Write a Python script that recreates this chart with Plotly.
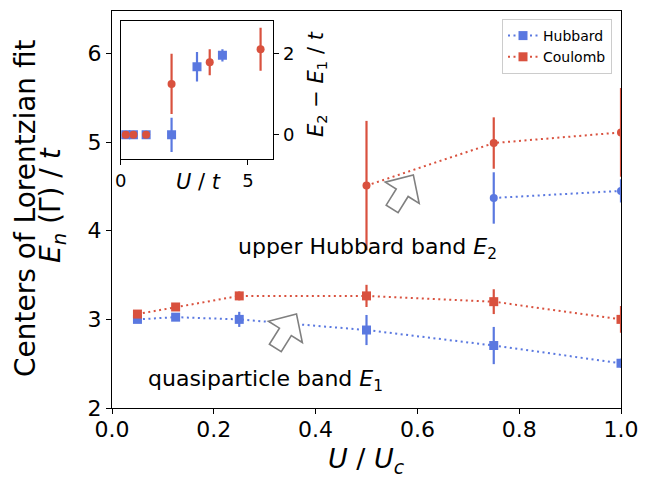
import numpy as np
import plotly.graph_objects as go

# ---------------- data ----------------
u_over_uc = [0.05, 0.125, 0.25, 0.5, 0.75, 1.0]

hub_e1 = [3.00, 3.025, 3.00, 2.88, 2.705, 2.505]
hub_e1_err = [0.0, 0.015, 0.085, 0.17, 0.21, 0.05]
coul_e1 = [3.06, 3.14, 3.265, 3.265, 3.20, 3.00]
coul_e1_err = [0.0, 0.02, 0.05, 0.125, 0.14, 0.15]

hub_e2_x = [0.75, 1.0]
hub_e2 = [4.37, 4.45]
hub_e2_err = [0.29, 0.13]
coul_e2_x = [0.5, 0.75, 1.0]
coul_e2 = [4.51, 4.99, 5.11]
coul_e2_err = [0.73, 0.29, 0.5]

# inset: E2 - E1 vs U/t
hub_ut = [0.2, 0.5, 1.0, 2.0, 3.0, 4.0]
hub_gap = [0.0, 0.0, 0.0, 0.0, 1.67, 1.95]
hub_gap_err = [0.0, 0.0, 0.0, 0.42, 0.36, 0.15]
coul_ut = [0.2, 0.5, 1.0, 2.0, 3.5, 5.5]
coul_gap = [0.0, 0.0, 0.0, 1.25, 1.78, 2.10]
coul_gap_err = [0.0, 0.0, 0.0, 0.74, 0.32, 0.53]

x_ticks = [0.0, 0.2, 0.4, 0.6, 0.8, 1.0]
y_ticks = [2, 3, 4, 5, 6]
inset_x_ticks = [0, 5]
inset_y_ticks = [0, 2]

# ---------------- style ----------------
BLUE = "#5a78e0"
RED = "#d9513e"
DOT = "2px,3.5px"
FONT = "DejaVu Sans"

W, H = 653, 479
ML, MR, MT, MB = 112, 32, 11, 71
XR = [0.0, 1.0]
YR = [2.0, 6.48]
PW = W - ML - MR
PH = H - MT - MB

fig = go.Figure()


def err(arr, color):
    return dict(type="data", array=arr, visible=True, color=color, thickness=2.2, width=0)


fig.add_trace(go.Scatter(x=u_over_uc, y=hub_e1, mode="lines+markers", name="Hubbard",
                         error_y=err(hub_e1_err, BLUE),
                         line=dict(color=BLUE, width=2, dash=DOT),
                         marker=dict(symbol="square", size=9, color=BLUE)))
fig.add_trace(go.Scatter(x=hub_e2_x, y=hub_e2, mode="lines+markers", showlegend=False,
                         error_y=err(hub_e2_err, BLUE),
                         line=dict(color=BLUE, width=2, dash=DOT),
                         marker=dict(symbol="circle", size=8, color=BLUE)))
fig.add_trace(go.Scatter(x=u_over_uc, y=coul_e1, mode="lines+markers", name="Coulomb",
                         error_y=err(coul_e1_err, RED),
                         line=dict(color=RED, width=2, dash=DOT),
                         marker=dict(symbol="square", size=9, color=RED)))
fig.add_trace(go.Scatter(x=coul_e2_x, y=coul_e2, mode="lines+markers", showlegend=False,
                         error_y=err(coul_e2_err, RED),
                         line=dict(color=RED, width=2, dash=DOT),
                         marker=dict(symbol="circle", size=8, color=RED)))

# inset
fig.add_trace(go.Scatter(x=hub_ut, y=hub_gap, mode="markers", showlegend=False,
                         xaxis="x2", yaxis="y2",
                         error_y=err(hub_gap_err, BLUE),
                         marker=dict(symbol="square", size=9, color=BLUE)))
fig.add_trace(go.Scatter(x=coul_ut, y=coul_gap, mode="markers", showlegend=False,
                         xaxis="x2", yaxis="y2",
                         error_y=err(coul_gap_err, RED),
                         marker=dict(symbol="circle", size=8, color=RED)))

# ---------------- hollow arrows ----------------
sx = PW / (XR[1] - XR[0])
sy = PH / (YR[1] - YR[0])


def arrow_path(tx, ty, angle_deg, L=40, hl=21, hw=20, sw=7):
    a = np.deg2rad(angle_deg)
    d = np.array([np.cos(a), -np.sin(a)])  # pixel space, y down
    n = np.array([np.sin(a), np.cos(a)])
    T = np.array([0.0, 0.0])
    pts = [T,
           T - hl * d + hw * n,
           T - hl * d + sw * n,
           T - L * d + sw * n,
           T - L * d - sw * n,
           T - hl * d - sw * n,
           T - hl * d - hw * n]
    out = []
    for p in pts:
        out.append((tx + p[0] / sx, ty - p[1] / sy))
    return "M " + " L ".join(f"{x:.5f},{y:.5f}" for x, y in out) + " Z"


shapes = [
    dict(type="path", xref="x", yref="y", path=arrow_path(0.3625, 3.06, 58),
         line=dict(color="#808080", width=1.6), fillcolor="white"),
    dict(type="path", xref="x", yref="y", path=arrow_path(0.592, 4.63, 58),
         line=dict(color="#808080", width=1.6), fillcolor="white"),
]

# ---------------- layout ----------------
axis_common = dict(showline=True, linecolor="black", linewidth=1.1, mirror=True,
                   ticks="outside", ticklen=5, tickwidth=1.1, tickcolor="black",
                   showgrid=False, zeroline=False)


def px2paper_x(px):
    return (px - ML) / PW


def px2paper_y(py):
    return (H - MB - py) / PH


fig.update_layout(
    width=W, height=H, autosize=False,
    margin=dict(l=ML, r=MR, t=MT, b=MB),
    paper_bgcolor="white", plot_bgcolor="white",
    font=dict(family=FONT, color="black"),
    xaxis=dict(domain=[0, 1], range=XR, tickvals=x_ticks,
               ticktext=[f"{v:.1f}" for v in x_ticks],
               tickfont=dict(size=22), ticklabelstandoff=-3, **axis_common),
    yaxis=dict(domain=[0, 1], range=YR, tickvals=y_ticks,
               tickfont=dict(size=22), **axis_common),
    xaxis2=dict(domain=[px2paper_x(120.7), px2paper_x(273.3)], anchor="y2",
                range=[0, 6], tickvals=inset_x_ticks, tickfont=dict(size=18),
                **axis_common),
    yaxis2=dict(domain=[px2paper_y(159.3), px2paper_y(20.7)], anchor="x2", side="right",
                range=[-0.6, 2.8], tickvals=inset_y_ticks, tickfont=dict(size=18),
                **axis_common),
    legend=dict(x=px2paper_x(612), y=px2paper_y(19), xanchor="right", yanchor="top",
                bgcolor="rgba(255,255,255,0.8)", bordercolor="#cccccc", borderwidth=1,
                font=dict(size=14), tracegroupgap=0, itemwidth=30),
    shapes=shapes,
    annotations=[
        dict(text="upper Hubbard band <i>E</i><sub>2</sub>", x=0.2435, y=3.80,
             xref="x", yref="y", xanchor="left", yanchor="middle", showarrow=False,
             font=dict(size=22)),
        dict(text="quasiparticle band <i>E</i><sub>1</sub>", x=0.0665, y=2.306,
             xref="x", yref="y", xanchor="left", yanchor="middle", showarrow=False,
             font=dict(size=22)),
        dict(text="Centers of Lorentzian fit", x=px2paper_x(25), y=px2paper_y(208),
             xref="paper", yref="paper", xanchor="center", yanchor="middle",
             textangle=-90, showarrow=False, font=dict(size=28)),
        dict(text="<i>E</i><sub><i>n</i></sub> (Γ) / <i>t</i>", x=px2paper_x(52),
             y=px2paper_y(205), xref="paper", yref="paper", xanchor="center",
             yanchor="middle", textangle=-90, showarrow=False, font=dict(size=28)),
        dict(text="<i>U</i> / <i>U</i><sub><i>c</i></sub>", x=px2paper_x(366),
             y=px2paper_y(460), xref="paper", yref="paper", xanchor="center",
             yanchor="middle", showarrow=False, font=dict(size=27)),
        dict(text="<i>E</i><sub>2</sub> − <i>E</i><sub>1</sub> / <i>t</i>",
             x=px2paper_x(317), y=px2paper_y(84), xref="paper", yref="paper",
             xanchor="center", yanchor="middle", textangle=-90, showarrow=False,
             font=dict(size=21)),
        dict(text="<i>U</i> / <i>t</i>", x=px2paper_x(198), y=px2paper_y(182),
             xref="paper", yref="paper", xanchor="center", yanchor="middle",
             showarrow=False, font=dict(size=21)),
    ],
)

fig.write_html("out.html")
